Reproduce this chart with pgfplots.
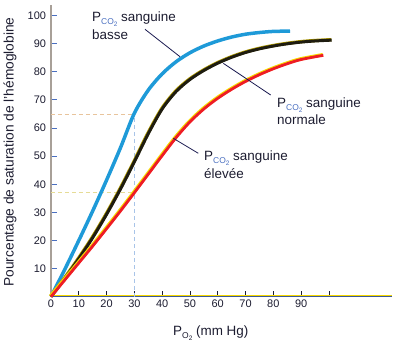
\documentclass[border=0pt]{standalone}
\usepackage{pgfplots}
\pgfplotsset{compat=1.18}
\usepackage{fontspec}
\setmainfont{Liberation Sans}
\definecolor{txt}{HTML}{1C1C30}
\definecolor{cblue}{HTML}{1E9AD8}
\definecolor{cblack}{HTML}{1E1C10}
\definecolor{cred}{HTML}{EE1C24}
\definecolor{cyel}{HTML}{F5D800}
\definecolor{subblue}{HTML}{4A6FC0}
\definecolor{yaxis}{HTML}{A8A098}
\definecolor{leader}{HTML}{1A1A50}
\definecolor{dpeach}{HTML}{E8C49C}
\definecolor{dyel}{HTML}{E6DC96}
\definecolor{dblue}{HTML}{A8C4E8}
\newcommand{\pco}{P\raisebox{-3.5bp}{\fontsize{8.5}{8.5}\selectfont\color{subblue}CO\raisebox{-2bp}{\fontsize{6.5}{6.5}\selectfont 2}}}
\newcommand{\po}{P\raisebox{-3.5bp}{\fontsize{8.5}{8.5}\selectfont O\raisebox{-2bp}{\fontsize{6.5}{6.5}\selectfont 2}}}
\begin{document}
\begin{tikzpicture}[x=1bp,y=1bp]
\path[use as bounding box] (-51,-53.3) rectangle (347,296.7);
\begin{axis}[
  at={(0,0)}, anchor=south west,
  scale only axis, width=341bp, height=291.7bp,
  xmin=0, xmax=122.7, ymin=0, ymax=103.8,
  axis x line*=bottom, axis y line*=left,
  xtick={0,10,...,100}, xticklabels={0,10,20,30,40,50,60,70,80,90,{}},
  ytick={10,20,...,100},
  tick align=inside, major tick length=6bp,
  x axis line style={draw=subblue!80!black, line width=1bp, -},
  y axis line style={draw=yaxis, line width=1.6bp, -},
  xtick style={txt, line width=0.8bp},
  ytick style={subblue, line width=1bp},
  ticklabel style={font=\fontsize{11}{11}\selectfont, text=txt},
  yticklabel style={xshift=-1.5bp},
  /pgf/number format/assume math mode=true,
  clip=false,
]
\draw[cyel, line width=0.8bp] (axis cs:0,0.35) -- (axis cs:122.7,0.35);
% guide lines
\addplot[dpeach, line width=0.8bp, dash pattern=on 4bp off 3bp] coordinates {(0,65) (30,65)};
\addplot[dyel, line width=0.8bp, dash pattern=on 4bp off 3bp] coordinates {(0,37) (30,37)};
\addplot[dblue, line width=0.8bp, dash pattern=on 4bp off 3bp] coordinates {(30,0) (30,65)};
% low PCO2 (blue)
\addplot[cblue, line width=3.5bp, smooth, tension=0.5] coordinates {
(0,0) (5,9.8) (10,20) (15,30.5) (20,41.5) (25,53) (30,65.3) (35,73.5) (40,79.3) (45,83.6) (50,86.8) (55,89.2) (60,91) (65,92.4) (70,93.4) (75,94) (80,94.4) (86,94.5)};
% normal (black)
\addplot[cyel!70!black, line width=3.4bp, smooth, tension=0.5, xshift=-0.4bp, yshift=0.4bp] coordinates {
(0,0) (5,6.5) (10,13.5) (15,21) (20,29.3) (25,38.3) (30,48) (35,58) (40,66.8) (45,73) (50,77.3) (55,80.5) (60,83.1) (65,85.2) (70,86.9) (75,88.2) (80,89.2) (85,90) (90,90.6) (95,91) (101,91.3)};
\addplot[cblack, line width=3bp, smooth, tension=0.5] coordinates {
(0,0) (5,6.5) (10,13.5) (15,21) (20,29.3) (25,38.3) (30,48) (35,58) (40,66.8) (45,73) (50,77.3) (55,80.5) (60,83.1) (65,85.2) (70,86.9) (75,88.2) (80,89.2) (85,90) (90,90.6) (95,91) (101,91.3)};
% high (red)
\addplot[cyel, line width=3.4bp, smooth, tension=0.5, xshift=-0.6bp, yshift=0.6bp] coordinates {
(0,0) (5,6) (10,12) (15,18) (20,24.2) (25,30.5) (30,37) (35,43.6) (40,50.2) (45,56.6) (50,62.2) (55,66.8) (60,70.6) (65,73.8) (70,76.6) (75,79) (80,81.1) (85,82.9) (90,84.4) (98,85.9)};
\addplot[cred, line width=2.8bp, smooth, tension=0.5] coordinates {
(0,0) (5,6) (10,12) (15,18) (20,24.2) (25,30.5) (30,37) (35,43.6) (40,50.2) (45,56.6) (50,62.2) (55,66.8) (60,70.6) (65,73.8) (70,76.6) (75,79) (80,81.1) (85,82.9) (90,84.4) (98,85.9)};
\end{axis}
% leader lines
\draw[leader, line width=0.8bp] (94,267.4) -- (129,240);
\draw[leader, line width=0.8bp] (172.3,233.4) -- (219.7,201.7);
\draw[leader, line width=0.8bp] (122.3,158.4) -- (147.3,143.4);
% annotations
\begin{scope}[every node/.style={inner sep=0pt, anchor=base west, text=txt, font=\fontsize{13.5}{14}\selectfont}]
\node at (41,275.7) {\pco\ sanguine};
\node at (41,257.7) {basse};
\node at (226,189.7) {\pco\ sanguine};
\node at (226,172.7) {normale};
\node at (153,136.7) {\pco\ sanguine};
\node at (153,118.7) {élevée};
\node at (122,-38.3) {\po\ (mm Hg)};
\end{scope}
\node[rotate=90, inner sep=0pt, text=txt, font=\fontsize{13.8}{14}\selectfont] at (-41,144.7) {Pourcentage de saturation de l'hémoglobine};
\end{tikzpicture}
\end{document}
